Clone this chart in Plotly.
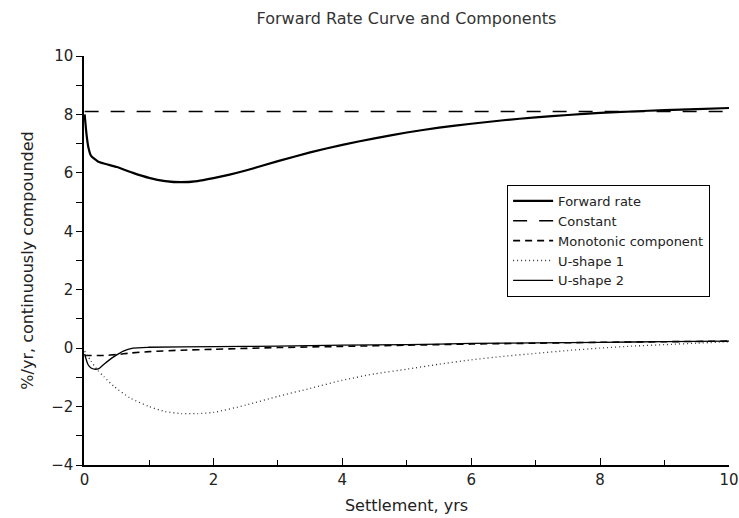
import plotly.graph_objects as go

x_fwd = [0, 0.03, 0.06, 0.1, 0.2, 0.3, 0.5, 0.75, 1.0, 1.25, 1.5, 1.75, 2.0, 2.25, 2.5, 3.0, 3.5,
         4.0, 4.5, 5.0, 5.5, 6.0, 6.5, 7.0, 7.5, 8.0, 8.5, 9.0, 9.5, 10.0]
forward_rate = [8.0, 7.3, 6.85, 6.58, 6.4, 6.32, 6.2, 6.0, 5.83, 5.72, 5.68, 5.72, 5.82, 5.94, 6.08,
                6.4, 6.7, 6.96, 7.18, 7.38, 7.55, 7.68, 7.8, 7.9, 7.98, 8.05, 8.1, 8.15, 8.18, 8.22]

x_const = [0, 10]
constant = [8.1, 8.1]

x_mono = [0, 0.3, 0.5, 0.7, 1.0, 1.5, 2.0, 3.0, 4.0, 5.0, 6.0, 7.0, 8.0, 9.0, 10.0]
monotonic = [-0.25, -0.25, -0.22, -0.17, -0.12, -0.07, -0.04, 0.02, 0.06, 0.1, 0.14, 0.17, 0.2, 0.22, 0.24]

x_u1 = [0, 0.1, 0.2, 0.3, 0.45, 0.7, 1.0, 1.25, 1.5, 1.75, 2.0, 2.5, 3.0, 3.5, 4.0, 4.5, 5.0,
        5.5, 6.0, 6.5, 7.0, 7.5, 8.0, 8.5, 9.0, 9.5, 10.0]
u_shape1 = [-0.1, -0.45, -0.75, -0.98, -1.3, -1.7, -2.0, -2.17, -2.24, -2.24, -2.2, -1.95, -1.65,
            -1.38, -1.1, -0.88, -0.72, -0.55, -0.4, -0.28, -0.18, -0.08, 0.0, 0.07, 0.12, 0.17, 0.22]

x_u2 = [0, 0.05, 0.1, 0.15, 0.22, 0.3, 0.45, 0.6, 0.75, 1.0, 2.0, 3.0, 4.0, 5.0, 6.0, 7.0, 8.0, 9.0, 10.0]
u_shape2 = [-0.2, -0.55, -0.68, -0.72, -0.7, -0.55, -0.3, -0.1, 0.0, 0.03, 0.05, 0.07, 0.1, 0.12,
            0.16, 0.18, 0.2, 0.22, 0.24]

x_ticks = [0, 2, 4, 6, 8, 10]
y_ticks = [-4, -2, 0, 2, 4, 6, 8, 10]

FONT = "DejaVu Sans"
INK = "#222222"

fig = go.Figure()
fig.add_trace(go.Scatter(x=x_fwd, y=forward_rate, mode="lines", name="Forward rate",
                         line=dict(color="black", width=2.2, shape="spline", smoothing=0.5)))
fig.add_trace(go.Scatter(x=x_const, y=constant, mode="lines", name="Constant",
                         line=dict(color="black", width=1.6, dash="14px,12px")))
fig.add_trace(go.Scatter(x=x_mono, y=monotonic, mode="lines", name="Monotonic component",
                         line=dict(color="black", width=1.6, dash="7px,5px", shape="spline", smoothing=0.6)))
fig.add_trace(go.Scatter(x=x_u1, y=u_shape1, mode="lines", name="U-shape 1",
                         line=dict(color="#333333", width=1.3, dash="1px,3px", shape="spline", smoothing=0.6)))
fig.add_trace(go.Scatter(x=x_u2, y=u_shape2, mode="lines", name="U-shape 2",
                         line=dict(color="black", width=1.3, shape="spline", smoothing=0.6)))

fig.update_layout(
    width=739, height=518,
    margin=dict(l=84, r=10, t=56, b=53, autoexpand=False),
    paper_bgcolor="white", plot_bgcolor="white",
    font=dict(family=FONT, color=INK, size=14),
    title=dict(text="Forward Rate Curve and Components", x=0.5, xref="paper",
               y=0.975, yref="container", xanchor="center", yanchor="top",
               font=dict(family=FONT, size=16, color="#333333")),
    showlegend=True,
    legend=dict(x=0.656, y=0.685, xanchor="left", yanchor="top",
                bordercolor="black", borderwidth=1, bgcolor="white",
                font=dict(family=FONT, size=13, color=INK),
                itemwidth=40, tracegroupgap=0),
)
fig.update_xaxes(range=[-0.01, 10], tickvals=x_ticks, ticktext=[str(v) for v in x_ticks],
                 showline=True, linecolor="black", linewidth=1.5, showgrid=False, zeroline=False,
                 automargin=False,
                 ticks="inside", ticklen=7, tickcolor="black", tickwidth=1.3,
                 minor=dict(dtick=1, tick0=0, ticks="inside", ticklen=5, tickcolor="black"),
                 tickfont=dict(size=15), title=dict(text="Settlement, yrs", font=dict(size=16), standoff=12))
fig.update_yaxes(range=[-4, 10], tickvals=y_ticks, ticktext=[str(v).replace("-", "\u2212") for v in y_ticks],
                 showline=True, linecolor="black", linewidth=1.5, showgrid=False, zeroline=False,
                 automargin=False,
                 ticks="outside", ticklen=6, tickcolor="black", tickwidth=1.3,
                 minor=dict(dtick=1, tick0=0, ticks="outside", ticklen=6, tickcolor="black"),
                 tickfont=dict(size=15), title=dict(text="%/yr, continuously compounded", font=dict(size=16), standoff=14))

fig.write_html("out.html")
